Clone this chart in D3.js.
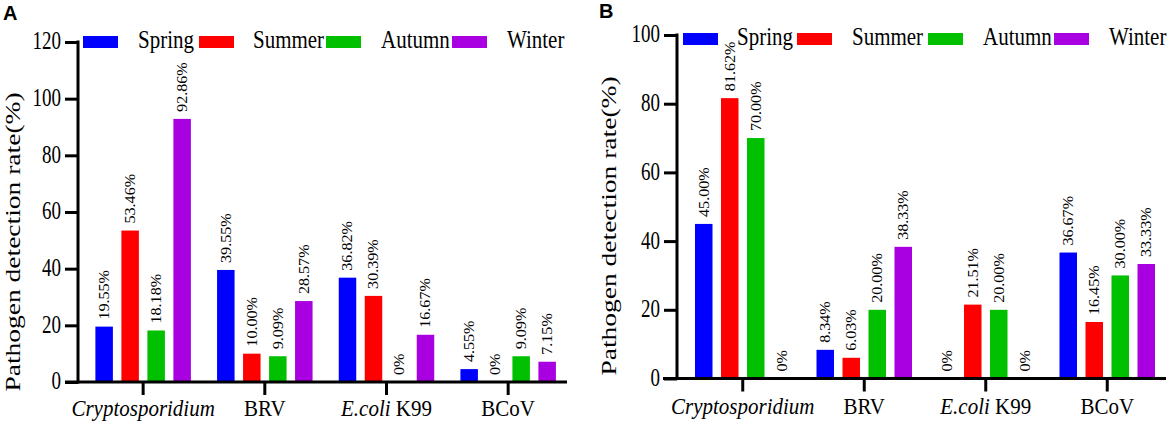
<!DOCTYPE html>
<html><head><meta charset="utf-8">
<script src="https://cdn.jsdelivr.net/npm/d3@7"></script>
<style>
html,body{margin:0;padding:0;background:#fff;}
text, tspan{font-family:"Liberation Serif","Times New Roman",Times,serif !important;fill:#000;}
text.letter{font-family:"Liberation Sans",Arial,Helvetica,sans-serif !important;font-weight:bold;}
</style></head>
<body><svg id="chart" width="1170" height="424"></svg>
<script>
// ---- data ----
const categories = ["Cryptosporidium", "BRV", "E.coli K99", "BCoV"];
const seasons = ["Spring", "Summer", "Autumn", "Winter"];
const seasonColors = ["#0000ff", "#ff0000", "#00c000", "#a800e0"];

const ticksA = [0, 20, 40, 60, 80, 100, 120];
const springA = [19.55, 39.55, 36.82, 4.55];
const summerA = [53.46, 10.00, 30.39, 0];
const autumnA = [18.18, 9.09, 0, 9.09];
const winterA = [92.86, 28.57, 16.67, 7.15];

const ticksB = [0, 20, 40, 60, 80, 100];
const springB = [45.00, 8.34, 0, 36.67];
const summerB = [81.62, 6.03, 21.51, 16.45];
const autumnB = [70.00, 20.00, 20.00, 30.00];
const winterB = [0, 38.33, 0, 33.33];

const yTitle = "Pathogen detection rate(%)";

// ---- drawing ----
const svg = d3.select("#chart");
svg.append("rect").attr("width", 1170).attr("height", 424).attr("fill", "#fff");

function panel(cfg) {
  const g = svg.append("g");
  const y = d3.scaleLinear().domain([0, cfg.ticks[cfg.ticks.length - 1]]).range([cfg.y0, cfg.y1]);
  const x = d3.scaleBand().domain(categories).range([cfg.xr0, cfg.xr1]).padding(0);
  const xs = d3.scaleBand().domain(seasons).range([-52, 52]).paddingInner(0.327).paddingOuter(0.1635);
  const series = [cfg.spring, cfg.summer, cfg.autumn, cfg.winter];

  // bars
  series.forEach((vals, si) => {
    const s = seasons[si];
    const gg = g.append("g");
    gg.selectAll("rect").data(vals).join("rect")
      .attr("x", (d, i) => x(categories[i]) + x.bandwidth() / 2 + xs(s))
      .attr("width", xs.bandwidth())
      .attr("y", d => y(d))
      .attr("height", d => y(0) - y(d))
      .attr("fill", seasonColors[si]);
    gg.selectAll("text").data(vals).join("text")
      .attr("transform", (d, i) => {
        const cx = x(categories[i]) + x.bandwidth() / 2 + xs(s) + xs.bandwidth() / 2;
        return `translate(${cx},${y(d) - 7}) scale(1,1.15) rotate(-90)`;
      })
      .attr("dy", "0.35em")
      .attr("font-size", 14)
      .text(d => d === 0 ? "0%" : d.toFixed(2) + "%");
  });

  // y axis
  const ya = g.append("g").attr("transform", `translate(${cfg.ax},0)`)
    .call(d3.axisLeft(y).tickValues(cfg.ticks).tickSize(13).tickPadding(4).tickSizeOuter(0));
  ya.select(".domain").attr("stroke", "#000").attr("stroke-width", 3).attr("d", `M0,${cfg.y1 - 1.5}V${cfg.y0 + 1.5}`);
  ya.selectAll(".tick line").attr("stroke", "#000").attr("stroke-width", 3);
  ya.selectAll(".tick text").attr("font-size", 19)
    .attr("transform", "scale(1,1.3)").attr("dy", "0.28em");

  // x axis
  const xa = g.append("g").attr("transform", `translate(0,${cfg.y0})`)
    .call(d3.axisBottom(x).tickSize(13).tickSizeOuter(0).tickFormat(""));
  xa.select(".domain").attr("stroke", "#000").attr("stroke-width", 3).attr("d", `M${cfg.xl0},0H${cfg.xl1}`);
  xa.selectAll(".tick line").attr("stroke", "#000").attr("stroke-width", 3);
  xa.selectAll(".tick").each(function (c) {
    const t = d3.select(this).append("text")
      .attr("transform", `translate(0,${cfg.catY - cfg.y0}) scale(1,1.1)`)
      .attr("text-anchor", "middle").attr("font-size", 21);
    if (c === "Cryptosporidium") {
      t.append("tspan").attr("font-style", "italic").text("Cryptosporidium");
    } else if (c === "E.coli K99") {
      t.append("tspan").attr("font-style", "italic").text("E.coli");
      t.append("tspan").text(" K99");
    } else {
      t.text(c);
    }
  });

  // y title
  g.append("text")
    .attr("transform", `translate(${cfg.titleX},${cfg.titleY}) scale(1,1.25) rotate(-90)`)
    .attr("text-anchor", "middle").attr("font-size", 22).text(yTitle);

  // legend
  seasons.forEach((s, i) => {
    g.append("rect").attr("x", cfg.legSw[i]).attr("y", cfg.legY - 12).attr("width", 35).attr("height", 12)
      .attr("fill", seasonColors[i]);
    g.append("text").attr("transform", `translate(${cfg.legTx[i]},${cfg.legY}) scale(1,1.15)`)
      .attr("font-size", 21).text(s);
  });

  // panel letter
  g.append("text").attr("class", "letter").attr("x", cfg.letterX).attr("y", cfg.letterY)
    .attr("font-size", 20).text(cfg.letter);
}

panel({
  letter: "A", letterX: 3, letterY: 20,
  ticks: ticksA, spring: springA, summer: summerA, autumn: autumnA, winter: winterA,
  y0: 382, y1: 42, ax: 78, xr0: 82.3, xr1: 569, xl0: 65, xl1: 567,
  catY: 416, titleX: 20, titleY: 242,
  legY: 48, legSw: [83, 199, 326, 452], legTx: [138, 253, 381, 507]
});
panel({
  letter: "B", letterX: 599, letterY: 18,
  ticks: ticksB, spring: springB, summer: summerB, autumn: autumnB, winter: winterB,
  y0: 378.5, y1: 35, ax: 677, xr0: 682, xr1: 1168, xl0: 663, xl1: 1166,
  catY: 414, titleX: 616, titleY: 226,
  legY: 45, legSw: [683, 797, 928, 1054], legTx: [737, 852, 983, 1109]
});
</script></body></html>
